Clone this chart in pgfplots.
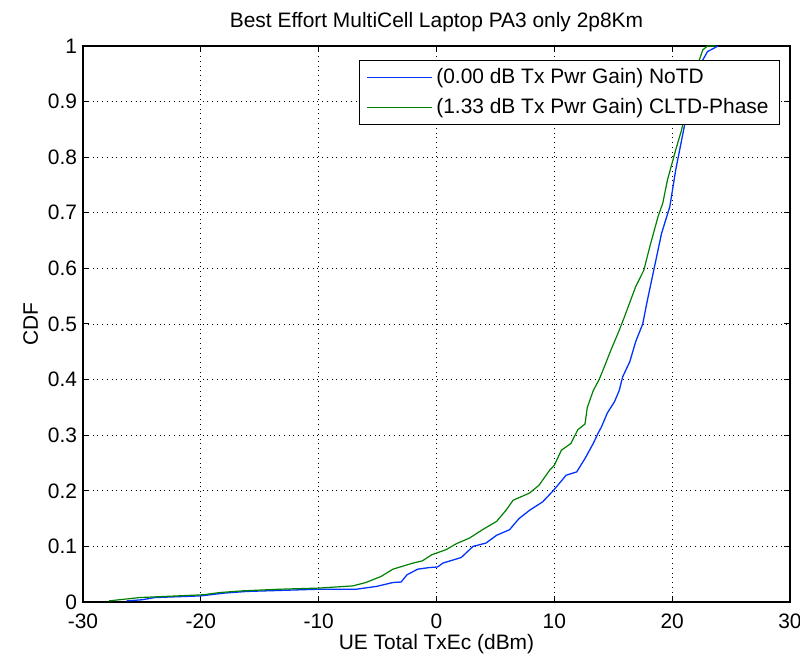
\documentclass[border=0pt]{standalone}
\usepackage{pgfplots}
\pgfplotsset{compat=1.18}
\usepackage{fontspec}
\setmainfont{Liberation Sans}
\definecolor{mblue}{rgb}{0,0.2,1}
\definecolor{mgreen}{rgb}{0,0.5,0}
\begin{document}
\begin{tikzpicture}[x=1bp,y=1bp]
\begin{axis}[
  scale only axis,
  width=353.5bp, height=278bp,
  xmin=-30, xmax=30, ymin=0, ymax=1,
  xtick={-30,-20,-10,0,10,20,30},
  xticklabels={-30,-20,-10,0,10,20,30},
  ytick={0,0.1,0.2,0.3,0.4,0.5,0.6,0.7,0.8,0.9,1},
  yticklabels={0,0.1,0.2,0.3,0.4,0.5,0.6,0.7,0.8,0.9,1},
  tick align=inside,
  major tick length=3bp,
  tick style={black, line width=0.5bp},
  axis line style={black, line width=0.6bp},
  grid=major,
  major grid style={black, dotted, line width=0.4bp},
  ticklabel style={font=\fontsize{10.5}{12}\selectfont},
  xticklabel shift=2.5bp,
  yticklabel shift=-0.5bp,
  title={Best Effort MultiCell Laptop PA3 only 2p8Km},
  title style={font=\fontsize{10.5}{12}\selectfont, yshift=-2.5bp},
  xlabel={UE Total TxEc (dBm)},
  ylabel={CDF},
  label style={font=\fontsize{10.5}{12}\selectfont},
  xlabel style={yshift=4bp},
  ylabel style={yshift=-2bp},
  legend style={at={(0.986,0.975)}, anchor=north east, draw=black, fill=white,
    line width=0.6bp, font=\fontsize{10.5}{12}\selectfont, row sep=2bp,
    inner xsep=3.5bp, inner ysep=2bp},
  legend cell align=left,
  legend image post style={xscale=1.9},
]
\addplot[mblue, line width=0.65bp] coordinates {
(-26.3,0.002) (-25.0,0.004) (-23.9,0.008) (-20,0.011) (-18,0.016) (-16.1,0.019) (-13,0.021) (-10,0.023) (-6.8,0.023) (-5.1,0.028) (-3.7,0.035) (-3.0,0.036) (-2.5,0.049) (-1.6,0.059) (-0.6,0.062) (0.1,0.063) (0.54,0.07) (2.1,0.08) (3.1,0.1) (4.2,0.106) (5.1,0.12) (6.2,0.13) (7.0,0.15) (7.9,0.165) (9.0,0.18) (9.9,0.20) (11.0,0.228) (11.9,0.234) (12.6,0.258) (13.3,0.285) (13.7,0.303) (14.0,0.315) (14.5,0.34) (15.1,0.36) (15.5,0.38) (15.8,0.405) (16.4,0.432) (16.9,0.468) (17.5,0.50) (17.9,0.543) (18.5,0.603) (19.1,0.663) (19.8,0.711) (20.3,0.777) (21.0,0.852) (21.5,0.91) (22.2,0.96) (23.0,0.99) (23.9,1.0)
};
\addlegendentry{(0.00 dB Tx Pwr Gain) NoTD}
\addplot[mgreen, line width=0.6bp] coordinates {
(-27.8,0.002) (-25.2,0.008) (-19.8,0.013) (-18.4,0.017) (-16.5,0.02) (-13.3,0.023) (-10.0,0.025) (-7.1,0.029) (-6.0,0.035) (-4.7,0.046) (-3.7,0.059) (-2.0,0.07) (-1.2,0.074) (-0.4,0.085) (0.8,0.094) (1.7,0.105) (2.8,0.115) (3.9,0.13) (5.1,0.145) (5.9,0.165) (6.5,0.183) (7.9,0.196) (8.7,0.21) (9.6,0.237) (10.0,0.246) (10.6,0.273) (11.4,0.285) (12.0,0.31) (12.6,0.32) (12.8,0.35) (13.3,0.38) (13.8,0.40) (14.3,0.426) (14.8,0.453) (15.4,0.483) (15.9,0.51) (16.9,0.567) (17.6,0.597) (18.1,0.639) (18.8,0.693) (19.2,0.717) (19.6,0.759) (20.3,0.813) (20.8,0.849) (21.3,0.9) (21.9,0.95) (22.6,0.993) (23.0,1.0) (23.7,1.0)
};
\addlegendentry{(1.33 dB Tx Pwr Gain) CLTD-Phase}
\end{axis}
\pgfresetboundingbox
\path (current axis.south west) ++(-41.5bp,-28bp) coordinate (bl);
\path (current axis.north east) ++(5bp,23bp) coordinate (tr);
\path[use as bounding box] (bl) rectangle (tr);
\end{tikzpicture}
\end{document}
